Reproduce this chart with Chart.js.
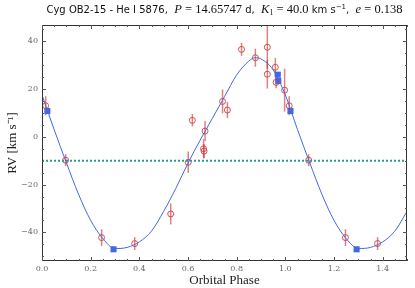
<!DOCTYPE html>
<html>
<head>
<meta charset="utf-8">
<script src="https://cdn.jsdelivr.net/npm/chart.js@4"></script>
<style>
  html, body { margin: 0; padding: 0; background: #fff; }
  #wrap { width: 415px; height: 288px; }
</style>
</head>
<body>
<div id="wrap"><canvas id="rv-chart" width="415" height="288"></canvas></div>
<script>
// measured radial velocities (He I 5876)
var obsPhase = [0.015, 0.097, 0.245, 0.381, 0.529, 0.601, 0.618, 0.664, 0.666, 0.670, 0.742, 0.762, 0.820, 0.877, 0.926, 0.926, 0.959, 0.962, 0.997, 1.016, 1.096, 1.247, 1.379];
var obsRV    = [13.0, -9.8, -42.2, -44.7, -32.3, -10.7, 6.9, -5.0, -6.0, 2.4, 14.8, 11.2, 36.6, 33.1, 37.5, 26.2, 29.1, 22.8, 19.5, 13.0, -9.8, -42.2, -44.7];
var obsErr   = [4.0, 2.5, 3.5, 2.7, 4.4, 4.5, 2.6, 4.0, 3.0, 4.2, 5.0, 3.4, 2.7, 3.8, 9.0, 6.0, 3.9, 2.5, 9.0, 4.0, 2.5, 3.5, 2.7];

// blue squares
var markPhase = [0.022, 0.294, 0.969, 0.971, 1.021, 1.293];
var markRV    = [10.8, -47.1, 26.0, 23.4, 10.8, -47.1];

// orbital solution curve
var fitPhase = [0.00, 0.05, 0.10, 0.15, 0.20, 0.25, 0.30, 0.35, 0.40, 0.45, 0.50, 0.55, 0.60, 0.65, 0.70, 0.75, 0.80, 0.85, 0.875, 0.90, 0.95,
                1.00, 1.05, 1.10, 1.15, 1.20, 1.25, 1.30, 1.35, 1.40, 1.45, 1.50];
var fitRV    = [17.5, 3.0, -10.8, -24.0, -35.0, -42.6, -46.8, -46.3, -44.0, -39.5, -31.2, -21.6, -11.0, -1.4, 7.7, 16.8, 25.9, 31.7, 33.1, 32.6, 28.0,
                17.5, 3.0, -10.8, -24.0, -35.0, -42.6, -46.8, -46.3, -44.0, -39.5, -31.2];

var gammaRV = -10;
var xTicks = [0, 0.2, 0.4, 0.6, 0.8, 1.0, 1.2, 1.4];
var yTicks = [-40, -20, 0, 20, 40];

// title pieces: [text, font, vertical shift]
var sans = "10px 'DejaVu Sans'";
var serif = "12.5px 'Liberation Serif'";
var ital = "italic 12.5px 'Liberation Serif'";
var small = "7px 'DejaVu Sans'";
var titleParts = [
    ["Cyg OB2-15 - He I 5876,  ", sans, 0],
    ["P", ital, 0], [" = 14.65747", serif, 0], [" d,  ", sans, 0],
    ["K", ital, 0], ["1", "8px 'Liberation Serif'", 2], [" = 40.0", serif, 0], [" km s", sans, 0], ["\u22121", small, -4],
    [",  ", sans, 0], ["e", ital, 0], [" = 0.138", serif, 0]
];

var obsColor = "rgba(205, 55, 55, 0.85)";
var errColor = "rgba(200, 45, 45, 0.6)";
var blue = "#4169e1";

function pts(xs, ys) {
    return xs.map(function(x, i) { return { x: x, y: ys[i] }; });
}

var errorBars = {
    id: "errorBars",
    beforeDatasetsDraw: function(chart) {
        var ctx = chart.ctx, a = chart.chartArea;
        var xs = chart.scales.x, ys = chart.scales.y;
        ctx.save();
        ctx.beginPath();
        ctx.rect(a.left, a.top, a.right - a.left, a.bottom - a.top);
        ctx.clip();
        ctx.strokeStyle = errColor;
        ctx.lineWidth = 1.5;
        obsPhase.forEach(function(p, i) {
            var px = xs.getPixelForValue(p);
            ctx.beginPath();
            ctx.moveTo(px, ys.getPixelForValue(obsRV[i] - obsErr[i]));
            ctx.lineTo(px, ys.getPixelForValue(obsRV[i] + obsErr[i]));
            ctx.stroke();
        });
        ctx.restore();
    }
};

var frameTicks = {
    id: "frameTicks",
    afterDraw: function(chart) {
        var ctx = chart.ctx, a = chart.chartArea;
        var xs = chart.scales.x, ys = chart.scales.y;
        ctx.save();
        ctx.strokeStyle = "#333";
        ctx.lineWidth = 1;
        ctx.strokeRect(a.left + 0.5, a.top + 0.5, a.right - a.left - 1, a.bottom - a.top - 1);
        ctx.strokeStyle = "#555";
        ctx.beginPath();
        for (var v = 0; v <= 1.5001; v += 0.05) {
            var major = Math.abs(v / 0.2 - Math.round(v / 0.2)) < 1e-6;
            var len = major ? 4 : 2;
            var px = Math.round(xs.getPixelForValue(v)) + 0.5;
            ctx.moveTo(px, a.bottom); ctx.lineTo(px, a.bottom - len);
            ctx.moveTo(px, a.top); ctx.lineTo(px, a.top + len);
        }
        for (var w = -50; w <= 45; w += 5) {
            var majorY = w % 20 === 0;
            var lenY = majorY ? 4 : 2;
            var py = Math.round(ys.getPixelForValue(w)) + 0.5;
            ctx.moveTo(a.left, py); ctx.lineTo(a.left + lenY, py);
            ctx.moveTo(a.right, py); ctx.lineTo(a.right - lenY, py);
        }
        ctx.stroke();

        // title with math parts
        var total = 0;
        titleParts.forEach(function(t) { ctx.font = t[1]; total += ctx.measureText(t[0]).width; });
        var x = (a.left + a.right) / 2 - total / 2;
        ctx.fillStyle = "#111";
        ctx.textBaseline = "alphabetic";
        ctx.textAlign = "left";
        titleParts.forEach(function(t) {
            ctx.font = t[1];
            ctx.fillText(t[0], x, 13 + t[2]);
            x += ctx.measureText(t[0]).width;
        });
        ctx.restore();
    }
};

var ctx = document.getElementById("rv-chart").getContext("2d");
var rvChart = new Chart(ctx, {
    type: "scatter",
    data: {
        datasets: [
            {
                label: "systemic",
                data: pts([0, 1.5], [gammaRV, gammaRV]),
                showLine: true,
                borderColor: "#2a9a94",
                borderWidth: 2,
                borderDash: [2, 2],
                pointRadius: 0
            },
            {
                label: "fit",
                data: pts(fitPhase, fitRV),
                showLine: true,
                cubicInterpolationMode: "monotone",
                borderColor: blue,
                borderWidth: 1,
                pointRadius: 0
            },
            {
                label: "RV",
                data: pts(obsPhase, obsRV),
                pointStyle: "circle",
                pointRadius: 3,
                borderWidth: 1,
                borderColor: obsColor,
                backgroundColor: "rgba(0,0,0,0)"
            },
            {
                label: "marks",
                data: pts(markPhase, markRV),
                pointStyle: "rect",
                pointRadius: 4.3,
                borderWidth: 0,
                backgroundColor: blue,
                borderColor: blue
            }
        ]
    },
    options: {
        responsive: false,
        animation: false,
        layout: { padding: { left: 0, right: 8, top: 25, bottom: 0 } },
        plugins: {
            legend: { display: false },
            tooltip: { enabled: false },
            title: { display: false }
        },
        scales: {
            x: {
                type: "linear",
                min: 0,
                max: 1.5,
                afterBuildTicks: function(scale) {
                    scale.ticks = xTicks.map(function(v) { return { value: v }; });
                },
                afterFit: function(scale) { scale.height = 27; },
                grid: { display: false, drawTicks: false },
                border: { display: false },
                ticks: {
                    color: "#666",
                    padding: 3,
                    maxRotation: 0,
                    font: { family: "DejaVu Serif", size: 8 },
                    callback: function(v) { return v.toFixed(1); }
                },
                title: {
                    display: true,
                    text: "Orbital Phase",
                    color: "#222",
                    padding: 0,
                    font: { family: "Liberation Serif", size: 13 }
                }
            },
            y: {
                type: "linear",
                min: -52,
                max: 46.8,
                afterBuildTicks: function(scale) {
                    scale.ticks = yTicks.map(function(v) { return { value: v }; });
                },
                afterFit: function(scale) { scale.width = 42; },
                grid: { display: false, drawTicks: false },
                border: { display: false },
                ticks: {
                    color: "#666",
                    padding: 4,
                    font: { family: "DejaVu Serif", size: 8 },
                    callback: function(v) { return v < 0 ? "\u2212" + Math.abs(v) : String(v); }
                },
                title: {
                    display: true,
                    text: "RV [km s\u207B\u00B9]",
                    color: "#222",
                    padding: { top: 5, bottom: 0 },
                    font: { family: "Liberation Serif", size: 13 }
                }
            }
        }
    },
    plugins: [errorBars, frameTicks]
});
</script>
</body>
</html>
